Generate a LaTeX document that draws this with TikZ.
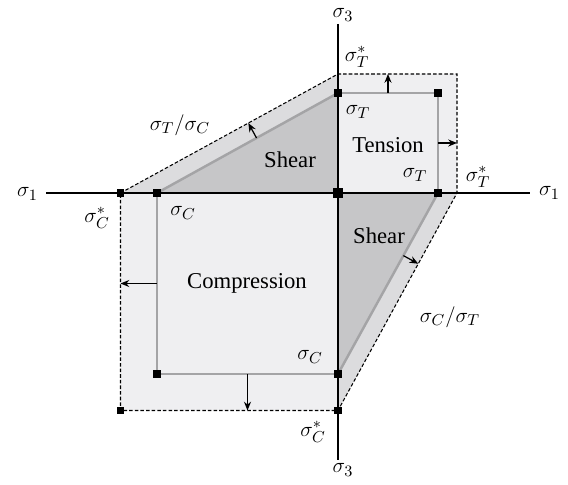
\documentclass[tikz,border=0pt]{standalone}
\usepackage{fontspec}
\setmainfont{Liberation Serif}
\usetikzlibrary{arrows.meta,calc}

\definecolor{lightfill}{HTML}{EFEFF1}
\definecolor{bandfill}{HTML}{DCDCDE}
\definecolor{shearfill}{HTML}{C6C6C8}
\definecolor{rimgray}{HTML}{A4A4A6}

\begin{document}
\begin{tikzpicture}[every node/.style={font=\fontsize{12.9}{15}\selectfont},
  axis/.style={line width=1.7pt},
  rim/.style={draw=rimgray, line width=1.4pt},
  outer/.style={draw, line width=0.6pt, dash pattern=on 2pt off 1.2pt},
  cornermark/.style={fill=black, minimum size=4pt, inner sep=0pt},
  shiftarrow/.style={-{Stealth[length=5pt,width=4pt]}, line width=0.7pt}]
  \useasboundingbox (-6.76,-5.84) rectangle (4.6,3.86);
  % Corner points (sigma_T = 2, sigma_C = 3.62, starred = 1.2 times)
  \coordinate (o)   at (0,0);
  \coordinate (tT)  at (0,2);      \coordinate (tTs) at (0,2.38);
  \coordinate (tR)  at (2,0);      \coordinate (tRs) at (2.38,0);
  \coordinate (tC)  at (2,2);      \coordinate (tCs) at (2.38,2.38);
  \coordinate (cL)  at (-3.62,0);  \coordinate (cLs) at (-4.35,0);
  \coordinate (cB)  at (0,-3.62);  \coordinate (cBs) at (0,-4.35);
  \coordinate (cC)  at (-3.62,-3.62); \coordinate (cCs) at (-4.35,-4.35);
  % Filled regions
  \fill[lightfill] (cLs) -- (tTs) -- (tCs) -- (tRs) -- (cBs) -- (cCs) -- cycle;
  \fill[bandfill] (cLs) -- (tTs) -- (tT) -- (cL) -- cycle;
  \fill[bandfill] (tRs) -- (cBs) -- (cB) -- (tR) -- cycle;
  \fill[shearfill] (cL) -- (tT) -- (o) -- cycle;
  \fill[shearfill] (tR) -- (cB) -- (o) -- cycle;
  % Inner limits
  \draw[rim] (tT) -- (tC) -- (tR);
  \draw[rim] (cL) -- (cC) -- (cB);
  \draw[rim] (cL) -- (tT);
  \draw[rim] (tR) -- (cB);
  % Outer (starred) limits
  \draw[outer] (cLs) -- (tTs) -- (tCs) -- (tRs) -- (cBs) -- (cCs) -- cycle;
  % Axes
  \coordinate (xl) at (-5.83,0); \coordinate (xr) at (3.84,0);
  \coordinate (yt) at (0,3.38);  \coordinate (yb) at (0,-5.34);
  \draw[axis] (xl) -- (xr);
  \draw[axis] (yt) -- (yb);
  % Corner marks
  \foreach \p in {tT,tC,tR,cL,cC,cB,cLs,cCs,cBs}
    \node[cornermark] at (\p) {};
  \node[cornermark, minimum size=5.5pt] at (o) {};
  % Shift arrows from inner to outer limits
  \coordinate (aT) at ($(tT)!0.5!(tC)$);
  \coordinate (aR) at ($(tR)!0.5!(tC)$);
  \coordinate (aL) at ($(cL)!0.5!(cC)$);
  \coordinate (aB) at ($(cB)!0.5!(cC)$);
  \coordinate (aU) at ($(cL)!0.55!(tT)$);
  \coordinate (aD) at ($(tR)!0.346!(cB)$);
  \draw[shiftarrow] (aT) -- ($(tTs)!(aT)!(tCs)$);
  \draw[shiftarrow] (aR) -- ($(tRs)!(aR)!(tCs)$);
  \draw[shiftarrow] (aL) -- ($(cLs)!(aL)!(cCs)$);
  \draw[shiftarrow] (aB) -- ($(cBs)!(aB)!(cCs)$);
  \draw[shiftarrow] (aU) -- ($(cLs)!(aU)!(tTs)$);
  \draw[shiftarrow] (aD) -- ($(tRs)!(aD)!(cBs)$);
  % Axis labels
  \node (s1l) at (-6.21,-0.02) {$\sigma_1$};
  \node (s1r) at (4.23,0) {$\sigma_1$};
  \node (s3t) at (0.1,3.56) {$\sigma_3$};
  \node (s3b) at (0.1,-5.54) {$\sigma_3$};
  % Limit labels
  \node (lTs1) at (0.38,2.72) {$\sigma_T^*$};
  \node (lTs2) at (2.8,0.32) {$\sigma_T^*$};
  \node (lCs1) at (-4.82,-0.5) {$\sigma_C^*$};
  \node (lCs2) at (-0.5,-4.78) {$\sigma_C^*$};
  \node (lT1) at (0.4,1.62) {$\sigma_T$};
  \node (lT2) at (1.54,0.36) {$\sigma_T$};
  \node (lC1) at (-3.1,-0.4) {$\sigma_C$};
  \node (lC2) at (-0.56,-3.28) {$\sigma_C$};
  \node (rTC) at (-3.16,1.36) {$\sigma_T/\sigma_C$};
  \node (rCT) at (2.24,-2.48) {$\sigma_C/\sigma_T$};
  % Region names
  \node (shearU) at (-0.96,0.66) {Shear};
  \node (shearD) at (0.82,-0.86) {Shear};
  \node (tens) at (1.0,0.96) {Tension};
  \node (comp) at (-1.82,-1.8) {Compression};
\end{tikzpicture}
\end{document}
